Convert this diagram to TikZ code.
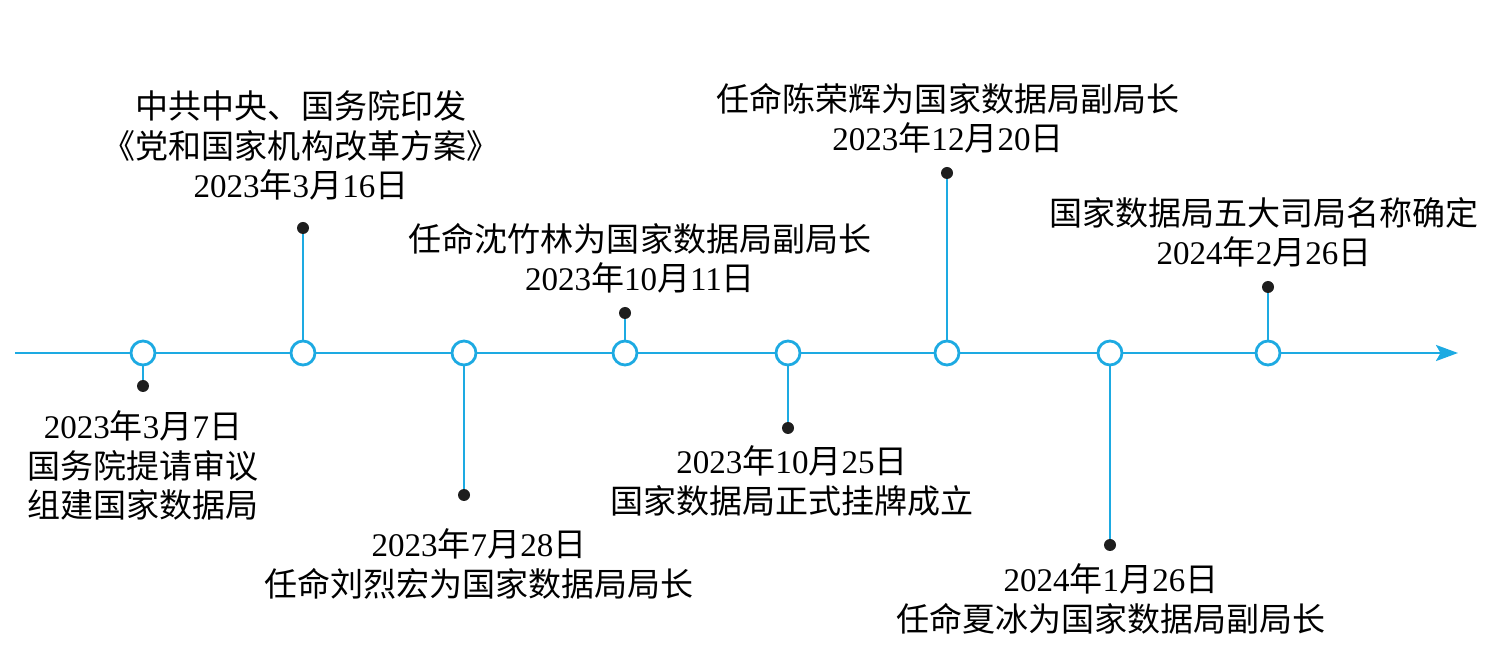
\documentclass[tikz,border=0pt]{standalone}
\usepackage{fontspec}
\setmainfont{Liberation Serif}
\newfontfamily\cjk{Noto Sans CJK SC}
\usetikzlibrary{arrows.meta,positioning}
\definecolor{lineblue}{RGB}{29,170,226}
\definecolor{pindark}{RGB}{30,30,30}
\newcommand\zh[1]{{\cjk #1}}
\newcommand\riqi[3]{#1\zh{年}#2\zh{月}#3\zh{日}}
\tikzset{
  evt/.style ={circle, draw=lineblue, fill=white, line width=1.6pt,
               minimum size=0.48cm, inner sep=0pt},
  pin/.style ={circle, fill=pindark, minimum size=0.24cm, inner sep=0pt},
  lbl/.style ={align=center, inner sep=0pt,
               font=\fontsize{18.8}{22.7}\selectfont},
  stem/.style={draw=lineblue, line width=1.5pt},
  axis/.style={draw=lineblue, line width=1.5pt,
               -{Stealth[length=0.44cm,width=0.32cm,inset=0.09cm]}},
}

\begin{document}
\begin{tikzpicture}[x=0.02cm,y=-0.02cm]
  \useasboundingbox (0,0) rectangle (1512,651);
  % time axis
  \coordinate (start) at (15,353);
  \coordinate (stop) at (1458,353);
  \draw[axis] (start) -- (stop);
  % events on the axis
  \node[evt] (c1) at (143,353) {};
  \node[evt] (c2) at (303,353) {};
  \node[evt] (c3) at (464,353) {};
  \node[evt] (c4) at (625,353) {};
  \node[evt] (c5) at (788,353) {};
  \node[evt] (c6) at (947,353) {};
  \node[evt] (c7) at (1110,353) {};
  \node[evt] (c8) at (1268,353) {};
  % pins
  \node[pin] (d1) at (143,386) {};
  \node[pin] (d2) at (303,228) {};
  \node[pin] (d3) at (464,495) {};
  \node[pin] (d4) at (625,313) {};
  \node[pin] (d5) at (788,428) {};
  \node[pin] (d6) at (947,173) {};
  \node[pin] (d7) at (1110,545) {};
  \node[pin] (d8) at (1268,287) {};
  \foreach \i in {1,...,8}
    \draw[stem] (c\i) -- (d\i);
  % labels
  \node[lbl, anchor=north] (t1) at (143,410)
    {\riqi{2023}{3}{7}\\ \zh{国务院提请审议}\\ \zh{组建国家数据局}};
  \node[lbl, anchor=south] (t2) at (301,201)
    {\zh{中共中央、国务院印发}\\ \zh{《党和国家机构改革方案》}\\ \riqi{2023}{3}{16}};
  \node[lbl, anchor=north] (t3) at (479,528)
    {\riqi{2023}{7}{28}\\ \zh{任命刘烈宏为国家数据局局长}};
  \node[lbl, anchor=south] (t4) at (640,294)
    {\zh{任命沈竹林为国家数据局副局长}\\ \riqi{2023}{10}{11}};
  \node[lbl, anchor=north] (t5) at (792,445)
    {\riqi{2023}{10}{25}\\ \zh{国家数据局正式挂牌成立}};
  \node[lbl, anchor=south] (t6) at (948,154)
    {\zh{任命陈荣辉为国家数据局副局长}\\ \riqi{2023}{12}{20}};
  \node[lbl, anchor=north] (t7) at (1111,563)
    {\riqi{2024}{1}{26}\\ \zh{任命夏冰为国家数据局副局长}};
  \node[lbl, anchor=south] (t8) at (1264,268)
    {\zh{国家数据局五大司局名称确定}\\ \riqi{2024}{2}{26}};
\end{tikzpicture}
\end{document}
